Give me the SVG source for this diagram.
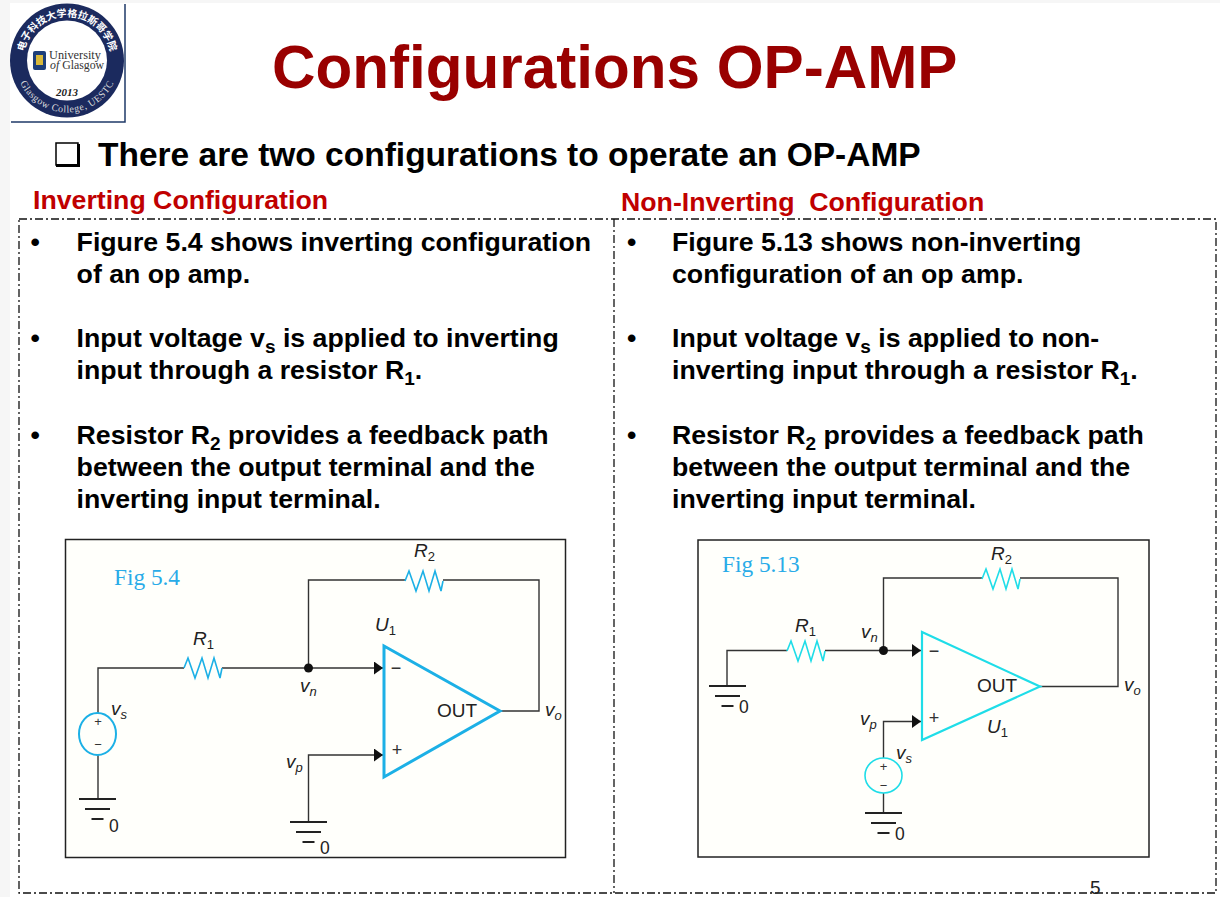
<svg xmlns="http://www.w3.org/2000/svg" xmlns:xlink="http://www.w3.org/1999/xlink" width="1220" height="897" viewBox="0 0 1220 897">
<style>
text{font-family:"Liberation Sans",Arial,sans-serif}
.title{font-size:60.2px;font-weight:bold;fill:#990000}
.lead{font-size:33.5px;font-weight:bold;fill:#000}
.head{font-size:26.7px;font-weight:bold;fill:#c00000}
.body{font-size:26.7px;font-weight:bold;fill:#000}
.sub{font-size:19px}
.box{fill:#fffffb;stroke:#222;stroke-width:1.5}
.frame{fill:none;stroke:#111;stroke-width:1.3;stroke-dasharray:8 3 2 3}
.wire{fill:none;stroke:#333;stroke-width:1.4}
.gnd{stroke:#222;stroke-width:2.2;fill:none}
.fig{font-family:"Liberation Serif",serif;font-size:23.3px;fill:#29abe8}
.lbl{font-size:19px;fill:#222}
.zero{font-size:17.5px;fill:#222}
.it{font-style:italic}
.sm{font-size:13px}
.blue{stroke:#1cb0e6;fill:none}
.cyan{stroke:#1fdde8;fill:none}
.sign{font-size:18px;fill:#333;text-anchor:middle}
.tiny{font-size:13px;fill:#333;text-anchor:middle}
.serif{font-family:"Liberation Serif",serif}
</style>
<defs>
<marker id="arr" markerUnits="userSpaceOnUse" markerWidth="10" markerHeight="14" refX="9" refY="6.5" orient="auto"><path d="M0 0L9 6.5L0 13z" fill="#111"/></marker>
<path id="res" d="M0 0L4 -10L11 10L18 -10L24 10L30 -10L36 10L38 0" stroke-width="1.6"/>
<g id="ground"><path class="gnd" d="M-18.500 0H18.500M-12.500 10H12.500M-6 20H6"/></g>
<path id="ringTop" d="M23.700 52.900A44 44 0 0 1 110.300 52.900"/>
<path id="ringBot" d="M19.900 82.500A52 52 0 0 0 114.100 82.500"/>
</defs>
<rect width="1220" height="897" fill="#fff"/>
<path d="M0 0H1220V3H10V897H0z" fill="#f6f6f6"/>

<g id="logo">
<rect x="11" y="4" width="114" height="118" fill="#fff"/>
<path d="M125 4V122H11" fill="none" stroke="#1f3a68" stroke-width="1.500"/>
<circle cx="67" cy="60.500" r="57" fill="#1b2a5e"/>
<circle cx="67" cy="60.500" r="40" fill="#fff"/>
<text font-size="10" font-weight="bold" fill="#fff" text-anchor="middle" style="font-family:'Noto Sans CJK SC',sans-serif"><textPath xlink:href="#ringTop" href="#ringTop" startOffset="50%">电子科技大学格拉斯哥学院</textPath></text>
<text font-size="10" fill="#ddd" letter-spacing="0.5" text-anchor="middle" class="serif"><textPath xlink:href="#ringBot" href="#ringBot" startOffset="50%">Glasgow College, UESTC</textPath></text>
<rect x="33" y="51" width="13" height="19" rx="2" fill="#1d3f7a"/>
<rect x="36" y="55" width="7" height="10" fill="#d8b93a"/>
<text x="49" y="59" font-size="12.300" fill="#333" class="serif">University</text>
<text x="50" y="69" font-size="11.800" fill="#333" class="serif"><tspan font-style="italic">of</tspan> Glasgow</text>
<text x="67" y="96" font-size="11" font-weight="bold" font-style="italic" fill="#222" text-anchor="middle" class="serif">2013</text>
</g>

<text class="title" x="272" y="88" id="title">Configurations OP-AMP</text>
<g id="checkbox"><rect x="56" y="143" width="22" height="22" fill="none" stroke="#000" stroke-width="1.500"/><path d="M56 165.500H78.500V144" fill="none" stroke="#000" stroke-width="3"/></g>
<text class="lead" x="98" y="166">There are two configurations to operate an OP-AMP</text>
<text class="head" x="33" y="209">Inverting Configuration</text>
<text class="head" x="621" y="211" xml:space="preserve">Non-Inverting  Configuration</text>

<g id="frames">
<rect class="frame" x="19" y="219" width="1197" height="674"/>
<path class="frame" d="M614 219V893"/>
</g>

<g id="left-text" transform="translate(-0.4 -0.7)">
<text class="body" x="31" y="252">•</text>
<text class="body" x="77" y="252">Figure 5.4 shows inverting configuration</text>
<text class="body" x="77" y="284">of an op amp.</text>
<text class="body" x="31" y="348">•</text>
<text class="body" x="77" y="348">Input voltage v<tspan class="sub" dy="6">s</tspan><tspan dy="-6"> is applied to inverting</tspan></text>
<text class="body" x="77" y="380">input through a resistor R<tspan class="sub" dy="6">1</tspan><tspan dy="-6">.</tspan></text>
<text class="body" x="31" y="445">•</text>
<text class="body" x="77" y="445">Resistor R<tspan class="sub" dy="6">2</tspan><tspan dy="-6"> provides a feedback path</tspan></text>
<text class="body" x="77" y="477">between the output terminal and the</text>
<text class="body" x="77" y="509">inverting input terminal.</text>
</g>
<g id="right-text" transform="translate(0 -0.7)">
<text class="body" x="627" y="252">•</text>
<text class="body" x="672" y="252">Figure 5.13 shows non-inverting</text>
<text class="body" x="672" y="284">configuration of an op amp.</text>
<text class="body" x="627" y="348">•</text>
<text class="body" x="672" y="348">Input voltage v<tspan class="sub" dy="6">s</tspan><tspan dy="-6"> is applied to non-</tspan></text>
<text class="body" x="672" y="380">inverting input through a resistor R<tspan class="sub" dy="6">1</tspan><tspan dy="-6">.</tspan></text>
<text class="body" x="627" y="445">•</text>
<text class="body" x="672" y="445">Resistor R<tspan class="sub" dy="6">2</tspan><tspan dy="-6"> provides a feedback path</tspan></text>
<text class="body" x="672" y="477">between the output terminal and the</text>
<text class="body" x="672" y="509">inverting input terminal.</text>
</g>

<rect class="box" x="65.500" y="539.500" width="500" height="318"/>
<rect class="box" x="698" y="540" width="451" height="317"/>

<g id="connectors">
<path class="wire" d="M98 713V668H184"/>
<path class="wire" d="M222 668H383" marker-end="url(#arr)"/>
<path class="wire" d="M308.500 668V580H405"/>
<path class="wire" d="M443 580H539V711H500"/>
<path class="wire" d="M98 755V799"/>
<path class="wire" d="M308.500 822V755H383" marker-end="url(#arr)"/>
<path class="wire" d="M727 686V650.500H787"/>
<path class="wire" d="M825 650.500H921" marker-end="url(#arr)"/>
<path class="wire" d="M883.500 650.500V578H982"/>
<path class="wire" d="M1020 578H1118V686.500H1040"/>
<path class="wire" d="M883.500 758V721.500H921" marker-end="url(#arr)"/>
<path class="wire" d="M883.500 793V813"/>
</g>

<g id="fig54">
<text class="fig" x="114" y="585">Fig 5.4</text>
<g id="l-r1"><use href="#res" x="184" y="668" class="blue"/><text class="lbl it" x="193" y="645">R<tspan class="sm" dy="4" font-style="normal">1</tspan></text></g>
<g id="l-r2"><use href="#res" x="405" y="581" class="blue"/><text class="lbl it" x="414" y="557">R<tspan class="sm" dy="4" font-style="normal">2</tspan></text></g>
<g id="l-opamp"><path d="M384 646L500 711L384 777z" class="blue" stroke-width="3"/>
<text class="sign" x="396" y="674">−</text><text class="sign" x="397" y="756">+</text>
<text class="lbl" x="437" y="717">OUT</text><text class="lbl it" x="375" y="631">U<tspan class="sm" dy="4" font-style="normal">1</tspan></text></g>
<g id="l-source"><ellipse cx="97.500" cy="734" rx="18.500" ry="21" class="blue" stroke-width="2"/>
<text class="tiny" x="98" y="726">+</text><text class="tiny" x="98" y="749">−</text>
<text class="lbl it" x="111" y="715">v<tspan class="sm" dy="4">s</tspan></text></g>
<g id="l-nodes"><circle cx="308.500" cy="668" r="4.500" fill="#111"/>
<text class="lbl it" x="300" y="692">v<tspan class="sm" dy="4">n</tspan></text>
<text class="lbl it" x="286" y="768">v<tspan class="sm" dy="4">p</tspan></text>
<text class="lbl it" x="545" y="716">v<tspan class="sm" dy="4">o</tspan></text></g>
<g id="l-gnd1"><use href="#ground" x="97.500" y="799"/><text class="zero" x="109" y="832">0</text></g>
<g id="l-gnd2"><use href="#ground" x="308.500" y="822"/><text class="zero" x="320" y="854">0</text></g>
</g>

<g id="fig513">
<text class="fig" x="722" y="572">Fig 5.13</text>
<g id="r-r1"><use href="#res" x="787" y="651" class="cyan"/><text class="lbl it" x="795" y="632">R<tspan class="sm" dy="4" font-style="normal">1</tspan></text></g>
<g id="r-r2"><use href="#res" x="982" y="579" class="cyan"/><text class="lbl it" x="991" y="560">R<tspan class="sm" dy="4" font-style="normal">2</tspan></text></g>
<g id="r-opamp"><path d="M922 632L1040 686.500L922 740z" class="cyan" stroke-width="2.200"/>
<text class="sign" x="934" y="657">−</text><text class="sign" x="934" y="724">+</text>
<text class="lbl" x="977" y="692">OUT</text><text class="lbl it" x="987" y="733">U<tspan class="sm" dy="4" font-style="normal">1</tspan></text></g>
<g id="r-source"><ellipse cx="883.500" cy="775.500" rx="18.500" ry="17.500" class="cyan" stroke-width="1.600"/>
<text class="tiny" x="883.500" y="771">+</text><text class="tiny" x="883.500" y="790">−</text>
<text class="lbl it" x="896" y="759">v<tspan class="sm" dy="4">s</tspan></text></g>
<g id="r-nodes"><circle cx="883.500" cy="650.500" r="4.500" fill="#111"/>
<text class="lbl it" x="861" y="638">v<tspan class="sm" dy="4">n</tspan></text>
<text class="lbl it" x="860" y="725">v<tspan class="sm" dy="4">p</tspan></text>
<text class="lbl it" x="1124" y="691">v<tspan class="sm" dy="4">o</tspan></text></g>
<g id="r-gnd1"><use href="#ground" x="727.500" y="686"/><text class="zero" x="739" y="713">0</text></g>
<g id="r-gnd2"><use href="#ground" x="883.500" y="813"/><text class="zero" x="895" y="840">0</text></g>
</g>
<text x="1090" y="894" font-size="19" fill="#222" id="page">5</text>
</svg>
